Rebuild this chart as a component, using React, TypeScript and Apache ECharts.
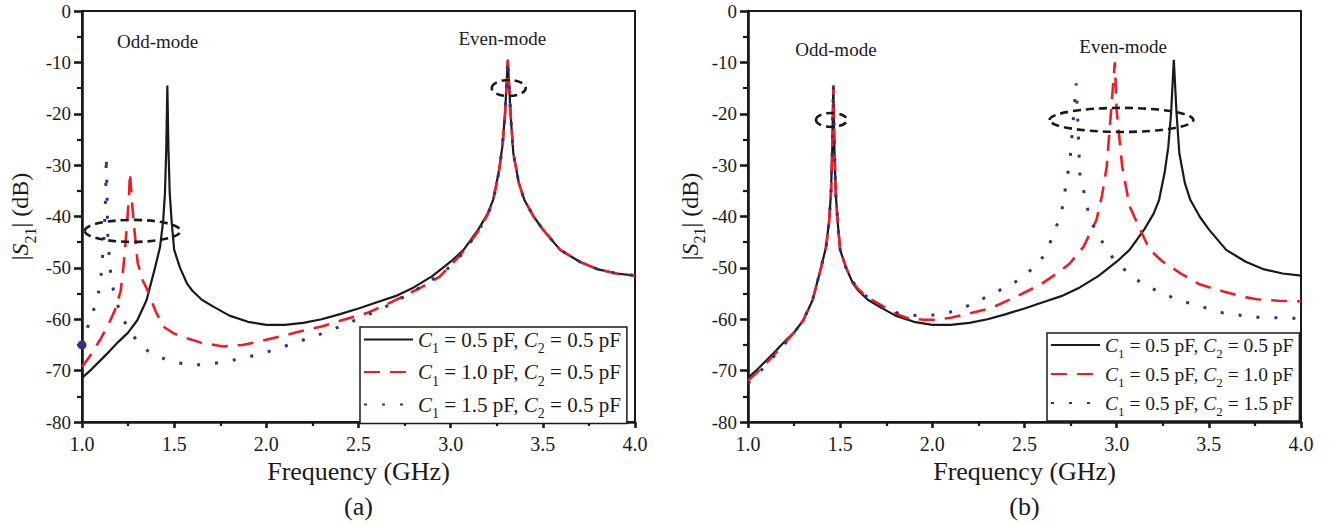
import React, { useEffect, useRef } from "react";
import * as echarts from "echarts";

// ---------- data: [frequency GHz, |S21| dB] ----------
const blackA: number[][] = [
  [1.0, -71.4], [1.05, -69.8], [1.1, -68.0], [1.15, -66.2], [1.2, -64.3], [1.25, -62.6], [1.3, -60.2],
  [1.35, -56.3], [1.396, -50.0], [1.423, -46.0], [1.44, -41.0], [1.45, -35.5], [1.457, -27.0], [1.463, -14.5],
  [1.469, -27.0], [1.476, -35.5], [1.487, -41.3], [1.5, -46.5], [1.532, -50.0], [1.569, -53.0], [1.6, -54.5],
  [1.65, -56.2], [1.71, -57.5], [1.8, -59.3], [1.9, -60.5], [2.0, -61.1], [2.1, -61.1], [2.2, -60.7], [2.3, -60.0],
  [2.4, -59.0], [2.5, -57.9], [2.6, -56.7], [2.7, -55.5], [2.8, -53.8], [2.9, -51.6], [3.0, -48.8], [3.07, -46.5],
  [3.15, -42.5], [3.2, -39.5], [3.23, -36.8], [3.26, -31.5], [3.28, -26.5], [3.295, -20.0], [3.305, -13.0],
  [3.31, -9.5], [3.315, -13.0], [3.325, -20.0], [3.34, -27.7], [3.37, -33.5], [3.4, -36.8], [3.45, -40.0],
  [3.5, -42.5], [3.594, -46.5], [3.7, -48.8], [3.8, -50.3], [3.9, -51.1], [4.0, -51.5],
];

const redA: number[][] = [
  [1.0, -69.3], [1.05, -66.8], [1.098, -64.0], [1.14, -61.3], [1.179, -58.2], [1.21, -54.5], [1.224, -50.0],
  [1.233, -46.5], [1.245, -41.0], [1.255, -36.0], [1.26, -31.5], [1.265, -34.0], [1.272, -37.5], [1.28, -41.0],
  [1.288, -44.0], [1.302, -49.0], [1.33, -52.5], [1.351, -54.0], [1.4, -58.5], [1.44, -61.4], [1.5, -62.8],
  [1.569, -63.7], [1.65, -64.6], [1.767, -65.3], [1.87, -65.0], [1.966, -64.3], [2.07, -63.4], [2.18, -62.4],
  [2.3, -61.4], [2.4, -60.3], [2.545, -58.8], [2.64, -57.3], [2.74, -55.6], [2.84, -53.8], [2.94, -51.7],
  [3.0, -49.5], [3.07, -46.8], [3.15, -42.8], [3.2, -39.7], [3.23, -37.0], [3.26, -31.7], [3.28, -26.7],
  [3.295, -20.0], [3.305, -13.0], [3.31, -9.5], [3.315, -13.0], [3.325, -20.0], [3.34, -27.7], [3.37, -33.5],
  [3.4, -36.8], [3.45, -40.0], [3.5, -42.5], [3.594, -46.5], [3.7, -48.8], [3.8, -50.3], [3.9, -51.1], [4.0, -51.5],
];

const blueA: number[][] = [
  [1.0, -65.0], [1.02, -62.8], [1.043, -60.1], [1.07, -57.5], [1.098, -53.6], [1.107, -50.0], [1.121, -43.0],
  [1.128, -36.0], [1.132, -28.2], [1.136, -36.0], [1.139, -43.0], [1.152, -50.0], [1.17, -54.3], [1.2, -58.0],
  [1.243, -61.4], [1.3, -64.3], [1.37, -66.6], [1.48, -68.2], [1.586, -68.9], [1.68, -68.8], [1.785, -68.2],
  [1.884, -67.5], [1.984, -66.6], [2.08, -65.5], [2.18, -64.3], [2.3, -62.8], [2.4, -61.4], [2.454, -60.6],
  [2.55, -59.2], [2.65, -57.5], [2.79, -54.8], [2.924, -51.7], [3.0, -49.7], [3.07, -47.0], [3.15, -42.8],
  [3.2, -39.7], [3.23, -37.0], [3.26, -31.7], [3.28, -26.7], [3.295, -20.0], [3.305, -13.0], [3.31, -9.5],
  [3.315, -13.0], [3.325, -20.0], [3.34, -27.7], [3.37, -33.5], [3.4, -36.8], [3.45, -40.0], [3.5, -42.5],
  [3.594, -46.5], [3.7, -48.8], [3.8, -50.3], [3.9, -51.1], [4.0, -51.5],
];

const blackB: number[][] = blackA;

const redB: number[][] = [
  [1.0, -72.0], [1.05, -70.3], [1.1, -68.5], [1.15, -66.6], [1.2, -64.6], [1.25, -62.6], [1.3, -60.2],
  [1.35, -56.3], [1.396, -50.0], [1.423, -46.0], [1.44, -41.0], [1.45, -35.5], [1.457, -27.0], [1.463, -14.5],
  [1.469, -27.0], [1.476, -35.5], [1.487, -41.3], [1.5, -46.5], [1.532, -50.0], [1.569, -52.8], [1.6, -54.2],
  [1.65, -55.8], [1.71, -57.0], [1.8, -58.9], [1.86, -59.7], [1.95, -60.1], [2.005, -60.1], [2.1, -59.7],
  [2.2, -58.9], [2.32, -57.8], [2.45, -55.7], [2.584, -53.3], [2.68, -51.0], [2.747, -49.1], [2.82, -45.9],
  [2.89, -40.7], [2.92, -36.0], [2.946, -30.3], [2.97, -19.3], [2.99, -10.0], [3.0, -19.3], [3.03, -30.3],
  [3.07, -38.0], [3.145, -43.9], [3.18, -46.5], [3.25, -48.8], [3.344, -51.0], [3.45, -53.2], [3.58, -54.6],
  [3.67, -55.5], [3.76, -56.1], [3.88, -56.4], [4.0, -56.5],
];

const blueB: number[][] = [
  [1.0, -72.5], [1.05, -70.8], [1.1, -68.8], [1.15, -66.8], [1.2, -64.8], [1.25, -62.6], [1.3, -60.2],
  [1.35, -56.3], [1.396, -50.0], [1.423, -46.0], [1.44, -41.0], [1.45, -35.5], [1.457, -27.0], [1.463, -14.5],
  [1.469, -27.0], [1.476, -35.5], [1.487, -41.3], [1.5, -46.5], [1.532, -50.0], [1.569, -52.7], [1.6, -54.2],
  [1.68, -56.8], [1.752, -58.3], [1.85, -59.1], [1.933, -59.3], [2.0, -59.2], [2.11, -58.5], [2.2, -57.3],
  [2.33, -55.0], [2.44, -53.0], [2.51, -51.2], [2.584, -48.8], [2.63, -45.9], [2.7, -39.4], [2.747, -29.0],
  [2.765, -21.0], [2.78, -14.1], [2.79, -22.0], [2.8, -31.6], [2.856, -40.7], [2.937, -45.9], [3.0, -49.1],
  [3.145, -53.3], [3.33, -56.2], [3.58, -58.8], [3.75, -59.6], [3.94, -59.8], [4.0, -59.8],
];

const blueMarkerA: number[] = [1.0, -65.0];

const legendLabelsA = [
  "{i|C}{s|1}{n| = 0.5 pF, }{i|C}{s|2}{n| = 0.5 pF}",
  "{i|C}{s|1}{n| = 1.0 pF, }{i|C}{s|2}{n| = 0.5 pF}",
  "{i|C}{s|1}{n| = 1.5 pF, }{i|C}{s|2}{n| = 0.5 pF}",
];
const legendLabelsB = [
  "{i|C}{s|1}{n| = 0.5 pF, }{i|C}{s|2}{n| = 0.5 pF}",
  "{i|C}{s|1}{n| = 0.5 pF, }{i|C}{s|2}{n| = 1.0 pF}",
  "{i|C}{s|1}{n| = 0.5 pF, }{i|C}{s|2}{n| = 1.5 pF}",
];

const xTicks = { min: 1.0, max: 4.0, interval: 0.5 };
const yTicks = { min: -80, max: 0, interval: 10 };

// annotations (data coordinates): [f, dB, rf, rdB]
const ellipsesA = [[1.275, -42.8, 0.26, 2.14], [3.315, -15.0, 0.092, 1.56]];
const ellipsesB = [[1.453, -21.2, 0.084, 1.36], [3.026, -21.2, 0.39, 2.34]];
const labelsA: [string, number, number][] = [["Odd-mode", 1.41, -6.0], ["Even-mode", 3.28, -5.45]];
const labelsB: [string, number, number][] = [["Odd-mode", 1.477, -7.4], ["Even-mode", 3.035, -7.0]];
const panelTags = ["(a)", "(b)"];

const FONT = "Liberation Serif";
const BLACK = "#1a1a1a";
const RED = "#ee1c25";
const BLUE = "#2e3192";

function richFor(size: number) {
  const sub = Math.round(size * 0.68);
  return {
    n: { fontFamily: FONT, fontSize: size, color: BLACK, lineHeight: 20, verticalAlign: "middle" },
    i: { fontFamily: FONT, fontSize: size, fontStyle: "italic", color: BLACK, lineHeight: 20, verticalAlign: "middle" },
    s: { fontFamily: FONT, fontSize: sub, color: BLACK, lineHeight: sub, verticalAlign: "top", padding: [12, 0, 0, 0] },
  };
}

export default function App() {
  const ref = useRef<HTMLDivElement>(null);
  useEffect(() => {
    if (!ref.current) return;
    const chart = echarts.init(ref.current, undefined, { renderer: "svg" });

    const grids = [
      { left: 82, top: 11, width: 553, height: 411 },
      { left: 748, top: 11, width: 553, height: 411 },
    ];

    const xAxis = [0, 1].map((g) => ({
      type: "value",
      gridIndex: g,
      ...xTicks,
      name: "Frequency (GHz)",
      nameLocation: "middle",
      nameGap: 35,
      nameTextStyle: { fontFamily: FONT, fontSize: 26, color: BLACK },
      axisLine: { show: true, onZero: false, lineStyle: { color: BLACK, width: 2.6 } },
      axisTick: { show: true, inside: false, length: 6, lineStyle: { color: BLACK, width: 2.6 } },
      minorTick: { show: true, splitNumber: 2, length: 4, lineStyle: { color: BLACK, width: 2.2 } },
      splitLine: { show: false },
      axisLabel: {
        fontFamily: FONT, fontSize: 20, color: BLACK, margin: 12,
        formatter: (v: number) => v.toFixed(1),
      },
    }));

    const yAxis = [0, 1].map((g) => ({
      type: "value",
      gridIndex: g,
      ...yTicks,
      name: "{n||}{i|S}{s|21}{n|| (dB)}",
      nameLocation: "middle",
      nameGap: g === 0 ? 50 : 34,
      nameRotate: 90,
      nameTextStyle: {
        fontFamily: FONT,
        rich: {
          n: { fontFamily: FONT, fontSize: 24, color: BLACK, lineHeight: 24, verticalAlign: "middle" },
          i: { fontFamily: FONT, fontSize: 24, fontStyle: "italic", color: BLACK, lineHeight: 24, verticalAlign: "middle" },
          s: { fontFamily: FONT, fontSize: 16, color: BLACK, lineHeight: 16, verticalAlign: "top", padding: [14, 0, 0, 0] },
        },
      },
      axisLine: { show: true, onZero: false, lineStyle: { color: BLACK, width: 2.6 } },
      axisTick: { show: true, inside: false, length: 8, lineStyle: { color: BLACK, width: 2.6 } },
      minorTick: { show: true, splitNumber: 2, length: 5, lineStyle: { color: BLACK, width: 2.2 } },
      splitLine: { show: false },
      axisLabel: { fontFamily: FONT, fontSize: 19, color: BLACK, margin: 11 },
    }));

    const mk = (name: string, g: number, data: number[][], kind: string, extra: any = {}) => ({
      name,
      type: "line",
      xAxisIndex: g,
      yAxisIndex: g,
      data,
      symbol: "none",
      showSymbol: false,
      smooth: false,
      clip: true,
      lineStyle:
        kind === "solid"
          ? { color: BLACK, width: 2.2, type: "solid" }
          : kind === "dash"
          ? { color: RED, width: 2.6, type: [16, 10] }
          : { color: BLUE, width: 3, type: [3, 15] },
      itemStyle: { color: kind === "solid" ? BLACK : kind === "dash" ? RED : BLUE },
      emphasis: { disabled: true },
      ...extra,
    });

    const series = [
      mk("a1", 0, blackA, "solid"),
      mk("a2", 0, redA, "dash"),
      mk("a3", 0, blueA, "dot", {
        markPoint: {
          symbol: "circle",
          symbolSize: 9,
          itemStyle: { color: BLUE },
          label: { show: false },
          data: [{ coord: blueMarkerA }],
        },
      }),
      mk("b1", 1, blackB, "solid"),
      mk("b2", 1, redB, "dash"),
      mk("b3", 1, blueB, "dot"),
    ];

    const legendBase = (names: string[], labels: string[], left: number, top: number, size: number, gap: number) => ({
      show: true,
      data: names,
      orient: "vertical",
      left,
      top,
      itemWidth: 49,
      itemHeight: 20,
      itemGap: gap,
      itemStyle: { opacity: 0, borderWidth: 0 },
      padding: [2, 6, 3, 3],
      borderColor: BLACK,
      borderWidth: 1.5,
      backgroundColor: "#ffffff",
      selectedMode: false,
      formatter: (n: string) => labels[names.indexOf(n)],
      textStyle: { fontFamily: FONT, fontSize: size, color: BLACK, rich: richFor(size) },
    });

    const option: any = {
      animation: false,
      backgroundColor: "#ffffff",
      textStyle: { fontFamily: FONT },
      grid: grids.map((g) => ({ ...g, show: true, borderColor: BLACK, borderWidth: 2, backgroundColor: "transparent" })),
      xAxis,
      yAxis,
      series,
      legend: [
        legendBase(["a1", "a2", "a3"], legendLabelsA, 360, 327, 21, 6),
        legendBase(["b1", "b2", "b3"], legendLabelsB, 1047, 333, 19.5, 4),
      ],
    };
    chart.setOption(option);

    const px = (g: number, f: number, d: number) => chart.convertToPixel({ gridIndex: g } as any, [f, d]) as number[];
    const graphics: any[] = [];
    [ellipsesA, ellipsesB].forEach((list, g) => {
      list.forEach(([f, d, rf, rd]) => {
        const c = px(g, f, d);
        const e = px(g, f + rf, d + rd);
        graphics.push({
          type: "ellipse",
          shape: { cx: c[0], cy: c[1], rx: Math.abs(e[0] - c[0]), ry: Math.abs(e[1] - c[1]) },
          style: { fill: "none", stroke: BLACK, lineWidth: 2.6, lineDash: [8, 5] },
          z: 10,
        });
      });
    });
    [labelsA, labelsB].forEach((list, g) => {
      list.forEach(([t, f, d]) => {
        const c = px(g, f, d);
        graphics.push({
          type: "text",
          x: c[0],
          y: c[1],
          style: { text: t, fontFamily: FONT, fontSize: 19, fill: BLACK, align: "center", verticalAlign: "middle" },
          z: 10,
        });
      });
    });
    panelTags.forEach((t, g) => {
      const c = px(g, 2.5, -80);
      graphics.push({
        type: "text",
        x: c[0],
        y: 506,
        style: { text: t, fontFamily: FONT, fontSize: 26, fill: BLACK, align: "center", verticalAlign: "middle" },
      });
    });
    chart.setOption({ graphic: graphics });

    return () => chart.dispose();
  }, []);

  return (
    <div
      ref={ref}
      style={{ position: "fixed", left: 0, top: 0, width: 1332, height: 525, background: "#ffffff" }}
    />
  );
}
